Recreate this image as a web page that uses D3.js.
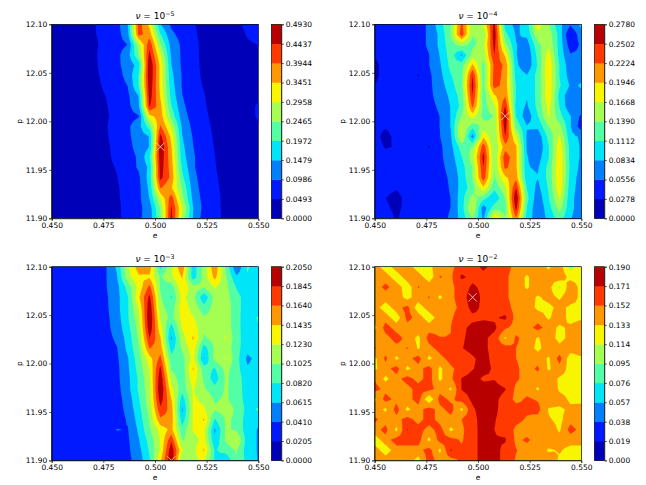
<!DOCTYPE html>
<html>
<head>
<meta charset="utf-8">
<script src="https://cdn.jsdelivr.net/npm/d3@7"></script>
<style>
  html, body { margin: 0; background: #fff; }
  text { font-family: "DejaVu Sans", sans-serif; fill: #000; }
  .axis text { font-size: 7.5px; font-family: "DejaVu Sans", sans-serif; }
  .axis path, .axis line { stroke: #000; stroke-width: 0.6; }
</style>
</head>
<body>
<div id="chart"></div>
<script>
// 20 x 20 grid, rows run from p = 12.10 (first) down to p = 11.90 (last)
var eDomain = [0.45, 0.55],
    pDomain = [11.9, 12.1],
    eTicks = [0.45, 0.475, 0.5, 0.525, 0.55],
    pTicks = [11.9, 11.95, 12.0, 12.05, 12.1];

var nuExponents = [-5, -4, -3, -2];
var levelTops = [0.493, 0.278, 0.205, 0.19];
var bestE = [0.5026, 0.5132, 0.5079, 0.4974];
var bestP = [11.9737, 12.0053, 11.9, 12.0684];

var gridNu5 = [
[.02,.02,.03,.035,.049,.06,.08,.15,.42,.33,.15,.09,.07,.052,.04,.03,.03,.04,.06,.065],
[.02,.02,.03,.035,.048,.06,.08,.13,.41,.37,.2,.11,.08,.055,.04,.03,.03,.035,.052,.06],
[.02,.02,.03,.035,.045,.06,.08,.10,.27,.43,.25,.13,.09,.06,.04,.03,.03,.03,.045,.05],
[.02,.02,.03,.035,.047,.06,.085,.13,.24,.46,.30,.14,.09,.06,.04,.03,.03,.03,.04,.045],
[.02,.02,.03,.035,.046,.06,.09,.115,.17,.49,.33,.15,.09,.06,.042,.03,.025,.025,.03,.035],
[.02,.02,.03,.035,.045,.057,.08,.115,.2,.49,.33,.16,.095,.06,.044,.03,.025,.025,.03,.035],
[.02,.02,.03,.035,.042,.055,.075,.1,.2,.48,.33,.17,.095,.062,.047,.03,.025,.025,.03,.035],
[.02,.02,.025,.03,.04,.05,.07,.09,.15,.47,.34,.18,.10,.065,.051,.035,.025,.025,.03,.04],
[.02,.02,.025,.03,.035,.047,.065,.085,.14,.45,.36,.2,.11,.07,.053,.037,.025,.025,.035,.055],
[.02,.02,.025,.03,.035,.045,.06,.08,.095,.33,.37,.23,.12,.078,.056,.04,.025,.025,.035,.055],
[.02,.02,.025,.03,.035,.047,.065,.09,.13,.22,.4,.29,.14,.085,.06,.043,.025,.025,.03,.045],
[.02,.02,.025,.03,.035,.045,.065,.09,.12,.15,.46,.33,.15,.095,.065,.045,.025,.025,.025,.03],
[.02,.02,.025,.03,.035,.043,.06,.085,.115,.15,.49,.35,.16,.10,.068,.047,.025,.025,.025,.03],
[.02,.02,.025,.03,.033,.042,.058,.08,.105,.19,.48,.36,.17,.105,.07,.05,.03,.02,.02,.025],
[.02,.02,.02,.025,.03,.04,.052,.075,.105,.16,.47,.37,.19,.105,.07,.052,.03,.02,.02,.02],
[.02,.02,.02,.025,.03,.035,.048,.07,.09,.17,.46,.38,.21,.115,.072,.055,.035,.02,.02,.02],
[.02,.02,.02,.025,.03,.035,.045,.065,.085,.16,.40,.35,.24,.125,.075,.056,.04,.02,.02,.02],
[.02,.02,.02,.025,.03,.035,.045,.06,.085,.15,.3,.42,.26,.135,.08,.057,.042,.02,.02,.02],
[.02,.02,.02,.025,.028,.032,.043,.06,.085,.125,.25,.45,.3,.15,.085,.057,.043,.02,.02,.02],
[.02,.02,.02,.025,.027,.03,.042,.06,.09,.12,.24,.46,.28,.145,.075,.055,.045,.02,.02,.02]
];

var gridNu4 = [
[.04,.04,.04,.04,.045,.06,.10,.14,.23,.15,.17,.26,.10,.075,.10,.18,.14,.09,.06,.09],
[.04,.04,.04,.04,.045,.06,.09,.14,.24,.14,.14,.27,.12,.08,.09,.16,.155,.10,.025,.075],
[.04,.04,.04,.04,.045,.06,.09,.13,.15,.13,.16,.26,.15,.085,.07,.13,.16,.10,.04,.06],
[.03,.04,.04,.04,.045,.055,.085,.125,.078,.15,.15,.25,.19,.085,.06,.12,.18,.10,.058,.06],
[.02,.04,.04,.04,.045,.055,.08,.12,.125,.20,.13,.23,.22,.09,.06,.115,.19,.11,.065,.07],
[.02,.04,.04,.04,.026,.05,.075,.11,.13,.25,.125,.235,.215,.10,.085,.12,.19,.11,.07,.08],
[.028,.04,.04,.04,.04,.05,.07,.10,.135,.26,.13,.235,.21,.11,.085,.12,.185,.115,.08,.085],
[.035,.04,.04,.04,.04,.05,.065,.09,.125,.25,.125,.19,.22,.11,.085,.12,.19,.10,.065,.08],
[.04,.04,.04,.04,.04,.048,.06,.085,.12,.23,.13,.16,.25,.10,.08,.12,.175,.11,.06,.075],
[.04,.04,.04,.04,.04,.045,.056,.085,.14,.18,.13,.14,.278,.11,.065,.11,.17,.12,.085,.05],
[.035,.03,.035,.04,.04,.045,.056,.085,.17,.12,.15,.14,.265,.13,.085,.09,.14,.15,.085,.04],
[.035,.02,.035,.04,.04,.04,.055,.08,.17,.07,.19,.14,.25,.17,.08,.065,.12,.17,.09,.08],
[.04,.025,.03,.04,.04,.026,.05,.075,.125,.14,.24,.14,.21,.20,.08,.06,.11,.185,.10,.08],
[.04,.04,.04,.04,.04,.04,.05,.07,.11,.155,.26,.14,.24,.20,.085,.07,.11,.19,.10,.08],
[.04,.04,.04,.04,.04,.04,.048,.065,.10,.14,.25,.14,.23,.20,.085,.08,.12,.19,.105,.075],
[.04,.04,.04,.04,.04,.04,.046,.06,.095,.14,.24,.135,.19,.21,.09,.085,.12,.19,.10,.07],
[.04,.035,.03,.04,.04,.04,.045,.058,.095,.125,.19,.12,.16,.25,.11,.075,.115,.185,.095,.07],
[.035,.028,.02,.035,.04,.04,.045,.056,.10,.15,.125,.085,.14,.278,.12,.065,.11,.17,.09,.07],
[.04,.032,.022,.035,.04,.04,.045,.056,.10,.17,.065,.13,.13,.26,.11,.06,.10,.15,.09,.07],
[.04,.04,.025,.04,.04,.04,.045,.06,.095,.14,.075,.20,.14,.22,.10,.065,.09,.125,.085,.07]
];

var gridNu3 = [
[.03,.03,.03,.03,.03,.04,.065,.12,.155,.155,.075,.12,.16,.07,.11,.16,.10,.042,.085,.07],
[.03,.03,.03,.03,.03,.04,.06,.115,.14,.14,.10,.12,.145,.07,.11,.15,.105,.065,.08,.07],
[.03,.03,.03,.03,.03,.04,.055,.09,.13,.17,.10,.09,.14,.11,.105,.125,.11,.08,.065,.065],
[.03,.03,.03,.03,.03,.038,.055,.08,.14,.19,.105,.08,.13,.11,.065,.11,.11,.09,.07,.08],
[.03,.03,.03,.03,.03,.037,.055,.08,.125,.2,.11,.09,.135,.115,.09,.11,.115,.09,.07,.07],
[.03,.03,.03,.03,.03,.036,.052,.08,.115,.205,.12,.095,.13,.125,.105,.11,.115,.09,.068,.085],
[.03,.03,.03,.03,.03,.035,.05,.075,.11,.2,.13,.072,.125,.135,.105,.11,.115,.09,.068,.08],
[.03,.03,.03,.03,.03,.034,.045,.07,.105,.185,.145,.058,.115,.146,.10,.11,.125,.09,.07,.07],
[.03,.03,.03,.03,.03,.032,.04,.067,.10,.165,.155,.072,.105,.135,.072,.105,.115,.09,.068,.07],
[.03,.03,.03,.03,.03,.03,.038,.06,.095,.135,.17,.09,.095,.13,.06,.11,.125,.09,.057,.068],
[.03,.03,.03,.03,.03,.03,.036,.058,.09,.125,.19,.10,.09,.146,.09,.08,.11,.09,.064,.065],
[.03,.03,.03,.03,.03,.03,.036,.056,.085,.12,.2,.115,.09,.135,.10,.07,.105,.095,.068,.065],
[.03,.03,.03,.03,.03,.03,.034,.055,.085,.115,.205,.13,.09,.125,.105,.09,.105,.095,.07,.065],
[.03,.03,.03,.03,.03,.03,.033,.05,.08,.115,.195,.145,.07,.125,.12,.10,.105,.095,.072,.07],
[.03,.03,.03,.03,.03,.03,.032,.047,.075,.11,.18,.155,.058,.125,.125,.105,.11,.10,.075,.085],
[.03,.03,.03,.03,.03,.03,.032,.043,.07,.105,.16,.155,.07,.125,.146,.08,.105,.10,.07,.065],
[.03,.03,.03,.03,.03,.03,.042,.04,.065,.10,.13,.15,.09,.125,.13,.058,.105,.10,.07,.06],
[.03,.03,.03,.03,.03,.03,.032,.038,.06,.09,.125,.18,.10,.115,.13,.065,.105,.125,.07,.06],
[.03,.03,.03,.03,.03,.03,.032,.037,.055,.085,.125,.2,.125,.115,.146,.08,.09,.105,.07,.06],
[.03,.03,.03,.03,.03,.03,.032,.036,.05,.08,.14,.205,.10,.12,.125,.08,.065,.10,.075,.06]
];

var gridNu2 = [
[.145,.12,.145,.145,.12,.128,.145,.148,.16,.165,.175,.165,.16,.145,.145,.14,.13,.145,.105,.128],
[.145,.145,.12,.145,.145,.12,.153,.148,.175,.165,.165,.165,.155,.145,.13,.145,.14,.145,.127,.127],
[.145,.156,.145,.12,.153,.145,.145,.148,.16,.175,.165,.16,.155,.145,.13,.145,.14,.11,.145,.127],
[.145,.145,.145,.125,.145,.153,.129,.148,.16,.185,.165,.16,.155,.145,.145,.13,.14,.13,.145,.127],
[.145,.12,.145,.158,.12,.145,.145,.148,.155,.18,.165,.165,.16,.145,.145,.128,.127,.14,.128,.13],
[.138,.145,.12,.158,.145,.12,.145,.15,.16,.165,.168,.168,.175,.145,.145,.145,.13,.145,.125,.13],
[.128,.16,.145,.145,.145,.145,.145,.152,.165,.178,.18,.175,.155,.145,.145,.158,.145,.128,.138,.145],
[.145,.145,.16,.145,.128,.16,.153,.152,.168,.178,.175,.165,.13,.155,.145,.131,.145,.125,.14,.145],
[.153,.145,.145,.153,.131,.145,.16,.153,.17,.178,.175,.165,.16,.152,.145,.127,.145,.14,.145,.145],
[.128,.156,.129,.145,.16,.128,.145,.16,.16,.168,.178,.165,.16,.152,.145,.145,.13,.16,.12,.13],
[.129,.145,.16,.128,.145,.16,.129,.148,.16,.17,.178,.168,.158,.155,.145,.155,.13,.145,.125,.127],
[.15,.128,.145,.16,.145,.16,.129,.148,.172,.178,.168,.17,.16,.155,.145,.145,.145,.13,.127,.127],
[.16,.145,.145,.145,.16,.158,.145,.13,.172,.178,.18,.178,.172,.148,.145,.13,.15,.13,.127,.13],
[.128,.16,.145,.145,.16,.115,.16,.148,.16,.175,.18,.175,.165,.146,.155,.15,.145,.14,.13,.128],
[.145,.129,.16,.128,.145,.16,.145,.16,.128,.168,.18,.175,.163,.16,.155,.158,.131,.13,.136,.14],
[.155,.145,.145,.16,.145,.16,.145,.145,.152,.166,.178,.172,.165,.157,.15,.145,.135,.128,.145,.145],
[.145,.158,.128,.172,.16,.145,.16,.128,.148,.165,.178,.171,.165,.148,.145,.145,.145,.13,.16,.145],
[.12,.145,.16,.16,.16,.128,.16,.158,.15,.165,.178,.172,.173,.148,.155,.145,.145,.14,.14,.14],
[.145,.12,.145,.145,.145,.16,.128,.173,.155,.165,.178,.178,.165,.153,.145,.145,.13,.135,.127,.127],
[.153,.145,.145,.145,.125,.16,.145,.145,.155,.165,.178,.178,.165,.15,.145,.145,.145,.13,.125,.125]
];

var grids = [gridNu5, gridNu4, gridNu3, gridNu2];

var totalWidth = 646, totalHeight = 485;
var plotWidth = 206.6, plotHeight = [194, 193.7];
var plotLeft = [51.7, 374.7], plotTop = [24.3, 266.7];
var barGap = 13, barWidth = 10;
var nLevels = 10;

var svg = d3.select("#chart").append("svg")
    .attr("width", totalWidth)
    .attr("height", totalHeight);

svg.append("defs");

// same band colours as a jet colormap sampled at the middle of each level
function jet(t) {
    var r = d3.scaleLinear().domain([0, 0.35, 0.66, 0.89, 1]).range([0, 0, 1, 1, 0.5])(t),
        g = d3.scaleLinear().domain([0, 0.125, 0.375, 0.64, 0.91, 1]).range([0, 0, 1, 1, 0, 0])(t),
        b = d3.scaleLinear().domain([0, 0.11, 0.34, 0.65, 1]).range([0.5, 1, 1, 0, 0])(t);
    return d3.rgb(r * 255, g * 255, b * 255).formatHex();
}

// d3.contours always splits saddles one way. Contouring on a grid with the cell
// means added decides them from the cell centre, the way contourf does.
function withCellMeans(rows) {
    var out = [];
    for (var j = 0; j < 2 * rows.length - 1; j++) {
        for (var k = 0; k < 2 * rows[0].length - 1; k++) {
            var j0 = Math.floor(j / 2), j1 = Math.ceil(j / 2),
                k0 = Math.floor(k / 2), k1 = Math.ceil(k / 2);
            out.push((rows[j0][k0] + rows[j0][k1] + rows[j1][k0] + rows[j1][k1]) / 4);
        }
    }
    return out;
}

nuExponents.forEach(function(exp, i) {
    var col = i % 2, row = i < 2 ? 0 : 1;
    var h = plotHeight[row];
    var g = svg.append("g")
        .attr("transform", "translate(" + plotLeft[col] + "," + plotTop[row] + ")");

    var x = d3.scaleLinear().domain(eDomain).range([0, plotWidth]);
    var y = d3.scaleLinear().domain(pDomain).range([h, 0]);

    var top = levelTops[i];
    var levels = d3.range(nLevels + 1).map(function(k) { return top * k / nLevels; });
    var rows = grids[i];
    var nx = 2 * rows[0].length - 1, ny = 2 * rows.length - 1;

    // grid index to data value, d3.contours has samples at index + 0.5
    var toX = function(c) { return x(eDomain[0] + (c - 0.5) * (eDomain[1] - eDomain[0]) / (nx - 1)); };
    var toY = function(c) { return y(pDomain[1] - (c - 0.5) * (pDomain[1] - pDomain[0]) / (ny - 1)); };
    var path = d3.geoPath(d3.geoTransform({
        point: function(a, b) { this.stream.point(toX(a), toY(b)); }
    }));

    var clipId = "clip" + i;
    svg.select("defs").append("clipPath").attr("id", clipId)
        .append("rect").attr("width", plotWidth).attr("height", h);

    var contours = d3.contours()
        .size([nx, ny])
        .smooth(true)
        .thresholds(levels.slice(0, nLevels))(withCellMeans(rows));

    var plot = g.append("g").attr("clip-path", "url(#" + clipId + ")");
    plot.selectAll("path")
        .data(contours)
        .enter()
        .append("path")
        .attr("d", path)
        .attr("fill", function(d, k) { return jet((k + 0.5) / nLevels); });

    plot.append("path")
        .attr("d", d3.symbol(d3.symbolX, 46)())
        .attr("transform", "translate(" + x(bestE[i]) + "," + y(bestP[i]) + ")")
        .attr("fill", "none")
        .attr("stroke", "#fff")
        .attr("stroke-width", 0.7);

    g.append("g").attr("class", "axis")
        .attr("transform", "translate(0," + h + ")")
        .call(d3.axisBottom(x).tickValues(eTicks).tickFormat(d3.format(".3f")).tickSize(2.6).tickPadding(1.8));
    g.append("g").attr("class", "axis")
        .call(d3.axisLeft(y).tickValues(pTicks).tickFormat(d3.format(".2f")).tickSize(2.6).tickPadding(1.8));
    g.append("rect")
        .attr("width", plotWidth).attr("height", h)
        .attr("fill", "none").attr("stroke", "#000").attr("stroke-width", 0.6);

    var title = g.append("text")
        .attr("x", plotWidth / 2)
        .attr("y", -5)
        .attr("text-anchor", "middle")
        .style("font-size", "9px");
    title.append("tspan").style("font-style", "italic").text("\u03bd");
    title.append("tspan").text(" = 10");
    title.append("tspan").attr("dy", -3.2).style("font-size", "6.3px").text("\u2212" + Math.abs(exp));

    g.append("text")
        .attr("x", plotWidth / 2)
        .attr("y", h + 20)
        .attr("text-anchor", "middle")
        .style("font-size", "7.5px")
        .text("e");
    g.append("text")
        .attr("transform", "translate(-30," + (h / 2) + ") rotate(-90)")
        .attr("text-anchor", "middle")
        .style("font-size", "7.5px")
        .text("p");

    // colorbar
    var bar = g.append("g").attr("transform", "translate(" + (plotWidth + barGap) + ",0)");
    var by = d3.scaleLinear().domain([0, top]).range([h, 0]);
    bar.selectAll("rect")
        .data(d3.range(nLevels))
        .enter()
        .append("rect")
        .attr("x", 0)
        .attr("width", barWidth)
        .attr("y", function(k) { return by(levels[k + 1]); })
        .attr("height", function(k) { return by(levels[k]) - by(levels[k + 1]) + 0.3; })
        .attr("fill", function(k) { return jet((k + 0.5) / nLevels); });
    bar.append("g").attr("class", "axis")
        .attr("transform", "translate(" + barWidth + ",0)")
        .call(d3.axisRight(by).tickValues(levels)
            .tickFormat(d3.format(i === 3 ? ".3f" : ".4f")).tickSize(2.6).tickPadding(1.8));
    bar.append("rect")
        .attr("width", barWidth).attr("height", h)
        .attr("fill", "none").attr("stroke", "#000").attr("stroke-width", 0.6);
});
</script>
</body>
</html>
